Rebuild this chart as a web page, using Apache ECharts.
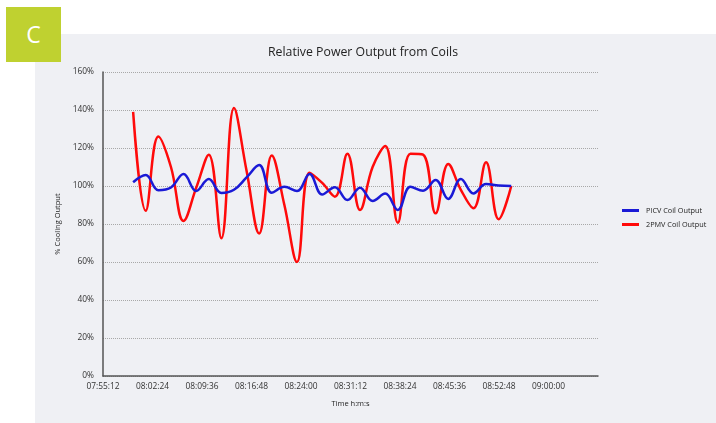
<!DOCTYPE html>
<html>
<head>
<meta charset="utf-8">
<script src="https://cdn.jsdelivr.net/npm/echarts@6/dist/echarts.min.js"></script>
<style>
  html, body { margin: 0; padding: 0; background: #fff; }
  #wrap { position: relative; width: 716px; height: 423px; overflow: hidden; }
  .panel { position: absolute; left: 35px; top: 34px; width: 681px; height: 389px; background: #eff0f4; }
  .badge {
    position: absolute; left: 6px; top: 7px; width: 55px; height: 55px;
    background: #bfd130; color: #fff; font: 23px 'Open Sans', sans-serif;
    line-height: 55px; text-align: center;
  }
  #chart { position: absolute; left: 0; top: 0; width: 716px; height: 423px; }
</style>
</head>
<body>
<div id="wrap">
  <div class="panel"></div>
  <div class="badge">C</div>
  <div id="chart"></div>
</div>
<script>
// sample times (h:m:s)
var times = [
  '07:59:35', '08:01:25', '08:03:15', '08:05:05', '08:06:55', '08:08:45',
  '08:10:35', '08:12:25', '08:14:15', '08:16:05', '08:17:55', '08:19:45',
  '08:21:35', '08:23:25', '08:25:15', '08:27:05', '08:28:55', '08:30:45',
  '08:32:35', '08:34:25', '08:36:15', '08:38:05', '08:39:55', '08:41:45',
  '08:43:35', '08:45:25', '08:47:15', '08:49:05', '08:50:55', '08:52:45',
  '08:54:35'
]
// % cooling output
var picv = [
  102, 105.8, 97.8, 99.2, 106.3, 97.4, 103.7, 96.3, 98, 104.5, 111,
  96.5, 99.6, 97.4, 106.3, 95.5, 99.3, 92.6, 99.1, 92.1, 96,
  87.4, 99.6, 97.5, 103.2, 93.2, 103.7, 96.1, 101, 100.2, 100
]
var tpmv = [
  139, 87, 126, 110, 81.6, 99, 116.5, 72.5, 141, 108, 75,
  116, 90, 60, 107, 101.6, 94.4, 117, 87.4, 110, 121,
  80.7, 117, 116.5, 85.6, 111.6, 98, 88.3, 112.5, 82.5, 100
]
var seriesNames = ['PICV Coil Output', '2PMV Coil Output']

function toSec (s) {
  var p = s.split(':')
  return (+p[0]) * 3600 + (+p[1]) * 60 + (+p[2])
}
function pad (n) {
  return n < 10 ? '0' + n : '' + n
}
function fmtTime (v) {
  var h = Math.floor(v / 3600)
  var m = Math.floor((v % 3600) / 60)
  var s = v % 60
  return pad(h) + ':' + pad(m) + ':' + pad(s)
}
function pairs (vals) {
  var out = []
  for (var i = 0; i < vals.length; i++) {
    out.push([toSec(times[i]), vals[i]])
  }
  return out
}

var font = "'Open Sans', 'DejaVu Sans', sans-serif"
var chart = echarts.init(document.getElementById('chart'))
chart.setOption({
  backgroundColor: 'transparent',
  animation: false,
  textStyle: { fontFamily: font },
  title: {
    text: 'Relative Power Output from Coils',
    left: 363,
    textAlign: 'center',
    top: 46,
    padding: 0,
    textStyle: { fontSize: 12.3, fontWeight: 'normal', color: '#222', fontFamily: font }
  },
  legend: {
    orient: 'vertical',
    left: 622,
    top: 206,
    padding: 0,
    itemWidth: 17,
    itemHeight: 3,
    itemGap: 5,
    icon: 'rect',
    data: seriesNames,
    textStyle: { fontSize: 7.3, color: '#222', fontFamily: font, padding: [0, 0, 0, 2], lineHeight: 9 }
  },
  grid: { left: 103, right: 118, top: 72, bottom: 47 },
  xAxis: {
    type: 'value',
    min: toSec('07:55:12'),
    max: toSec('09:07:12'),
    interval: 432,
    name: 'Time h:m:s',
    nameLocation: 'middle',
    nameGap: 24,
    nameTextStyle: { fontSize: 7.5, color: '#222' },
    axisLine: { lineStyle: { color: '#555', width: 1.5 } },
    axisTick: { show: false },
    splitLine: { show: false },
    axisLabel: {
      fontSize: 8.4,
      color: '#333',
      margin: 7,
      showMaxLabel: false,
      formatter: fmtTime
    }
  },
  yAxis: {
    type: 'value',
    min: 0,
    max: 160,
    interval: 20,
    name: '% Cooling Output',
    nameLocation: 'middle',
    nameGap: 31,
    nameTextStyle: { fontSize: 7.5, color: '#222' },
    axisLine: { show: true, lineStyle: { color: '#555', width: 1.5 } },
    axisTick: { show: false },
    axisLabel: { fontSize: 8.4, color: '#333', margin: 9, formatter: '{value}%' },
    splitLine: { lineStyle: { color: '#a8a8a8', type: 'dotted', width: 1 } }
  },
  series: [
    {
      name: seriesNames[0],
      type: 'line',
      smooth: 0.4,
      showSymbol: false,
      data: pairs(picv),
      itemStyle: { color: '#1a1ad6' },
      lineStyle: { color: '#1a1ad6', width: 2.5 },
      z: 3
    },
    {
      name: seriesNames[1],
      type: 'line',
      smooth: 0.4,
      showSymbol: false,
      data: pairs(tpmv),
      itemStyle: { color: '#ff0a0a' },
      lineStyle: { color: '#ff0a0a', width: 2.5 },
      z: 2
    }
  ]
})
</script>
</body>
</html>
